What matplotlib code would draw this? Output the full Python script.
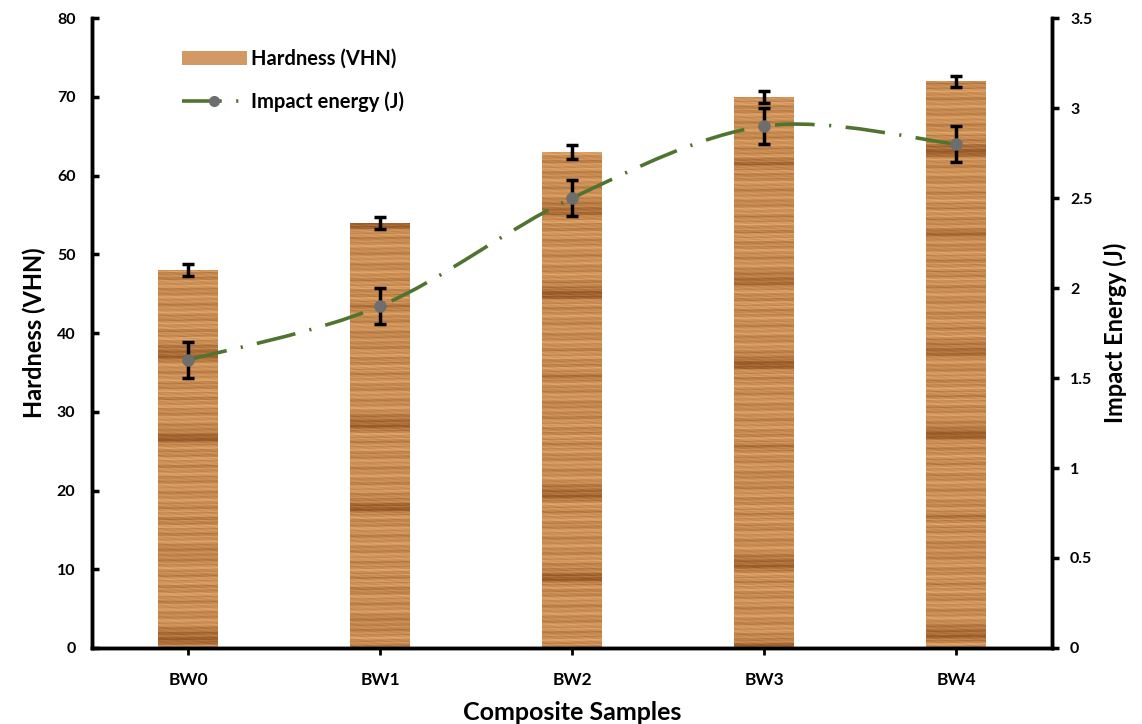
import matplotlib
matplotlib.use("Agg")
import matplotlib.pyplot as plt
import numpy as np
from matplotlib.path import Path
from matplotlib.patches import PathPatch, Patch
from matplotlib.lines import Line2D

samples = ["BW0", "BW1", "BW2", "BW3", "BW4"]
hardness = [48, 54, 63, 70, 72]
hardness_err = [0.8, 0.8, 0.9, 0.8, 0.7]
impact = [1.6, 1.9, 2.5, 2.9, 2.8]
impact_err = [0.1, 0.1, 0.1, 0.1, 0.1]

plt.rcParams['font.family'] = ['Lato', 'DejaVu Sans']
plt.rcParams['font.weight'] = 'bold'
plt.rcParams['axes.labelweight'] = 'bold'

# wood grain texture (purely decorative)
def wood_texture(rows, cols, offset):
    y = np.arange(rows)[:, None] + offset
    x = np.arange(cols)[None, :]
    t = (0.40 * np.sin(2 * np.pi * y / 5.3 + 0.4 * np.sin(x / 7.0))
         + 0.30 * np.sin(2 * np.pi * y / 2.3 + 1.3 + 0.6 * np.sin(x / 4.0 + y / 11.0))
         + 0.30 * np.sin(2 * np.pi * y / 13.7 + 2.1))
    band = np.clip(0.6 * np.sin(2 * np.pi * y / 97.0 + 0.7)
                   + 0.5 * np.sin(2 * np.pi * y / 41.0), 0, 1) ** 4
    t = 0.6 + 0.35 * t - 0.45 * band + 0.06 * np.sin(x / 2.0 + y * 1.7)
    t = np.clip(t, 0, 1)
    light = np.array([236, 178, 116]) / 255
    dark = np.array([150, 88, 38]) / 255
    return dark + (light - dark) * t[..., None]

fig = plt.figure(figsize=(11.42, 7.24), dpi=100)
ax = fig.add_axes([0.0806, 0.105, 0.8406, 0.870])
ax2 = ax.twinx()

x = np.arange(len(samples))
width = 0.31
bars = ax.bar(x, hardness, width=width, color="#d29a62", zorder=1)
for i, b in enumerate(bars):
    h = hardness[i]
    rows = int(h * 8)
    tex = wood_texture(rows, 40, offset=i * 71)
    im = ax.imshow(tex, extent=(x[i] - width / 2, x[i] + width / 2, 0, h),
                   aspect='auto', interpolation='bilinear', zorder=1.5, origin='lower')
    im.set_clip_path(b)
ax.errorbar(x, hardness, yerr=hardness_err, fmt='none', ecolor='black',
            elinewidth=2.5, capsize=4, capthick=2.5, zorder=3)

ax.set_xlim(-0.5, 4.5)
ax.set_ylim(0, 80)
ax.set_yticks(np.arange(0, 81, 10))
ax.set_xticks(x)
ax.set_xticklabels(samples)

# smooth curve (Bezier through points, like a spreadsheet smoothed line)
pts = np.column_stack([x, impact]).astype(float)
verts = [tuple(pts[0])]
codes = [Path.MOVETO]
n = len(pts)
for i in range(n - 1):
    p0 = pts[max(i - 1, 0)]
    p1 = pts[i]
    p2 = pts[i + 1]
    p3 = pts[min(i + 2, n - 1)]
    c1 = p1 + (p2 - p0) / 6
    c2 = p2 - (p3 - p1) / 6
    verts += [tuple(c1), tuple(c2), tuple(p2)]
    codes += [Path.CURVE4] * 3
line_color = "#4f7430"
dash = (0, (11, 4, 0.6, 4))
curve = PathPatch(Path(verts, codes), facecolor='none', edgecolor=line_color,
                  linewidth=2.6, linestyle=dash, zorder=2)
ax2.add_patch(curve)
ax2.errorbar(x, impact, yerr=impact_err, fmt='none', ecolor='black',
             elinewidth=2.5, capsize=4, capthick=2.5, zorder=3)
ax2.plot(x, impact, 'o', color='#6e6e6e', markersize=8, zorder=4)
ax2.set_ylim(0, 3.5)
ax2.set_yticks(np.arange(0, 3.51, 0.5))
ax2.set_yticklabels(["0", "0.5", "1", "1.5", "2", "2.5", "3", "3.5"])

for a in (ax, ax2):
    a.spines['top'].set_visible(False)
    for s in ('left', 'right', 'bottom'):
        a.spines[s].set_linewidth(2.5)
ax.tick_params(axis='y', direction='in', length=5, width=2.5, pad=12, labelsize=11.5)
ax.tick_params(axis='x', direction='out', length=5, width=2, pad=12, labelsize=12.5)
ax2.tick_params(axis='y', direction='out', length=5, width=2.5, pad=8, labelsize=11.5)

ax.set_ylabel("Hardness (VHN)", fontsize=17, labelpad=8)
ax2.set_ylabel("Impact Energy (J)", fontsize=17, labelpad=8)
ax.set_xlabel("Composite Samples", fontsize=18, labelpad=10)

handles = [Patch(facecolor="#d29a62", edgecolor='none'),
           Line2D([0], [0], color=line_color, linewidth=2.6, linestyle=dash,
                  marker='o', markersize=7, markerfacecolor='#6e6e6e',
                  markeredgecolor='#6e6e6e', markevery=[1])]
ax2.legend(handles, ["Hardness (VHN)", "Impact energy (J)"], loc='upper left',
           bbox_to_anchor=(0.075, 0.98), frameon=False, prop={'size': 14.5, 'weight': 'bold'},
           handlelength=3.2, labelspacing=1.1, handletextpad=0.2)

fig.savefig("out.png", dpi=100)
